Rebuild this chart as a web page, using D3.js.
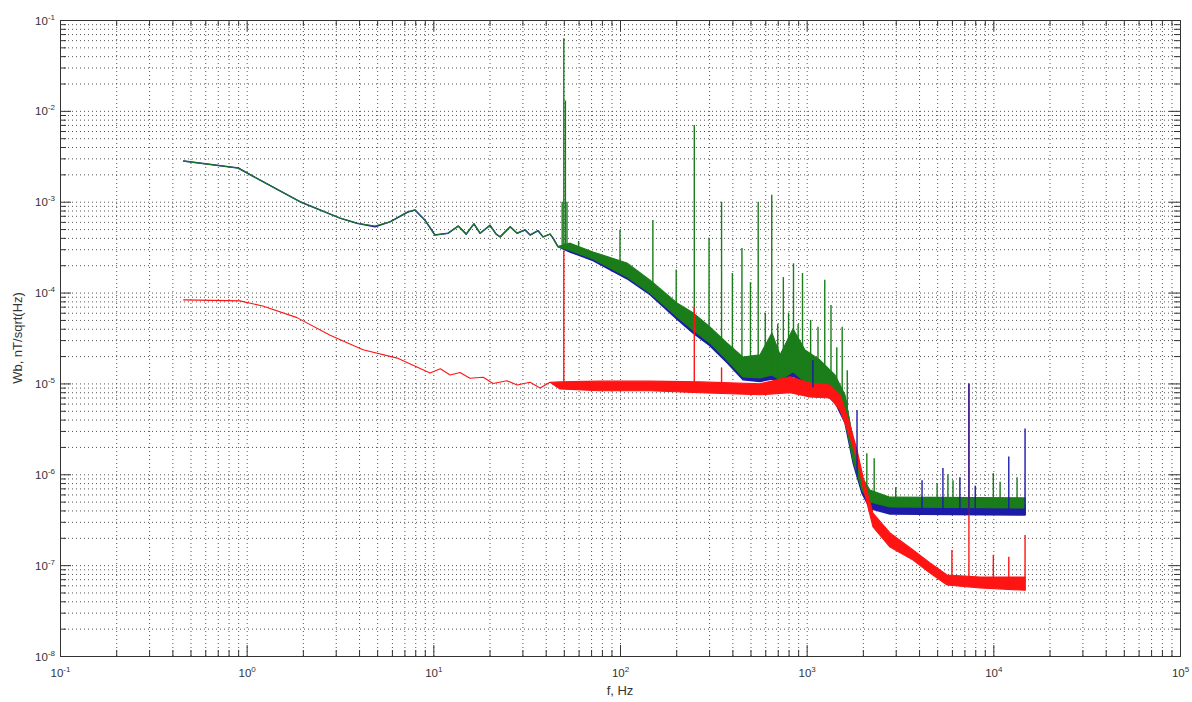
<!DOCTYPE html>
<html>
<head>
<meta charset="utf-8">
<script src="https://cdn.jsdelivr.net/npm/d3@7"></script>
<style>
  body { margin: 0; background: #fff; }
  svg { display: block; font-family: "Liberation Sans", Arial, sans-serif; }
</style>
</head>
<body>
<svg id="chart" width="1192" height="702"></svg>
<script>
// each trace row: [frequency Hz, lower edge, upper edge] of the plotted band
const blueTrace = [
  [0.46, 2.8e-3, 2.8e-3], [0.9, 2.35e-3, 2.35e-3], [1.18, 1.73e-3, 1.73e-3],
  [1.93, 1.0e-3, 1.0e-3], [3.16, 6.6e-4, 6.6e-4], [3.9, 5.8e-4, 5.8e-4],
  [4.87, 5.3e-4, 5.3e-4], [5.86, 6.0e-4, 6.0e-4], [7.3, 7.7e-4, 7.7e-4],
  [7.98, 8.1e-4, 8.1e-4], [9.0, 6.3e-4, 6.3e-4], [10.2, 4.3e-4, 4.3e-4],
  [12.0, 4.5e-4, 4.5e-4], [13.6, 5.4e-4, 5.4e-4], [15.0, 4.4e-4, 4.4e-4],
  [16.5, 5.7e-4, 5.7e-4], [17.8, 4.5e-4, 4.5e-4], [20.1, 5.5e-4, 5.5e-4],
  [21.7, 4.4e-4, 4.4e-4], [22.8, 4.1e-4, 4.1e-4], [25.8, 5.3e-4, 5.3e-4],
  [28.1, 4.5e-4, 4.5e-4], [31.0, 4.9e-4, 4.9e-4], [33, 4.3e-4, 4.3e-4],
  [36.4, 4.8e-4, 4.8e-4], [38.7, 4.1e-4, 4.1e-4], [42.2, 4.4e-4, 4.4e-4],
  [43.7, 4.0e-4, 4.0e-4], [46.5, 3.2e-4, 3.2e-4],
  [54, 2.8e-4, 3.4e-4], [71.7, 2.25e-4, 2.7e-4], [109, 1.42e-4, 2.0e-4],
  [145, 9.5e-5, 1.3e-4], [202, 5.1e-5, 7.3e-5], [246, 3.6e-5, 5.6e-5],
  [303, 2.6e-5, 4.0e-5], [374, 1.7e-5, 2.6e-5], [456, 1.1e-5, 1.85e-5],
  [562, 1.05e-5, 1.95e-5], [652, 1.12e-5, 3.2e-5], [720, 1.0e-5, 2.0e-5],
  [845, 1.22e-5, 3.6e-5], [980, 9.6e-6, 2.2e-5], [1178, 8.5e-6, 1.7e-5],
  [1418, 6.2e-6, 1.15e-5], [1604, 3.7e-6, 7.0e-6], [1771, 1.35e-6, 2.3e-6],
  [1978, 6.2e-7, 8.8e-7], [2183, 4.2e-7, 5.9e-7], [2795, 3.66e-7, 4.8e-7],
  [14790, 3.56e-7, 4.6e-7]
];

const greenTrace = [
  [0.46, 2.8e-3, 2.8e-3], [0.9, 2.35e-3, 2.35e-3], [1.18, 1.73e-3, 1.73e-3],
  [1.93, 1.0e-3, 1.0e-3], [3.16, 6.6e-4, 6.6e-4], [3.9, 5.8e-4, 5.8e-4],
  [4.87, 5.4e-4, 5.4e-4], [5.86, 6.0e-4, 6.0e-4], [7.3, 7.7e-4, 7.7e-4],
  [7.98, 8.1e-4, 8.1e-4], [9.0, 6.3e-4, 6.3e-4], [10.2, 4.3e-4, 4.3e-4],
  [12.0, 4.5e-4, 4.5e-4], [13.6, 5.4e-4, 5.4e-4], [15.0, 4.4e-4, 4.4e-4],
  [16.5, 5.7e-4, 5.7e-4], [17.8, 4.5e-4, 4.5e-4], [20.1, 5.5e-4, 5.5e-4],
  [21.7, 4.4e-4, 4.4e-4], [22.8, 4.1e-4, 4.1e-4], [25.8, 5.3e-4, 5.3e-4],
  [28.1, 4.5e-4, 4.5e-4], [31.0, 4.9e-4, 4.9e-4], [33, 4.3e-4, 4.3e-4],
  [36.4, 4.8e-4, 4.8e-4], [38.7, 4.1e-4, 4.1e-4], [42.2, 4.4e-4, 4.4e-4],
  [43.7, 4.0e-4, 4.0e-4], [46.5, 3.2e-4, 3.2e-4],
  [54, 2.9e-4, 3.5e-4], [71.7, 2.34e-4, 2.8e-4], [109, 1.48e-4, 2.12e-4],
  [145, 9.9e-5, 1.37e-4], [202, 5.4e-5, 7.7e-5], [246, 3.87e-5, 6.0e-5],
  [303, 2.79e-5, 4.2e-5], [374, 1.81e-5, 2.79e-5], [456, 1.18e-5, 1.95e-5],
  [562, 1.15e-5, 2.06e-5], [652, 1.24e-5, 3.6e-5], [720, 1.09e-5, 2.06e-5],
  [845, 1.34e-5, 4.0e-5], [980, 1.04e-5, 2.33e-5], [1178, 9.1e-6, 1.81e-5],
  [1418, 6.6e-6, 1.24e-5], [1604, 3.96e-6, 7.5e-6], [1771, 1.44e-6, 2.38e-6],
  [1978, 6.7e-7, 9.3e-7], [2183, 4.95e-7, 6.7e-7], [2795, 4.37e-7, 5.6e-7],
  [14790, 4.26e-7, 5.5e-7]
];

const redTrace = [
  [0.46, 8.3e-5, 8.3e-5], [0.92, 8.1e-5, 8.1e-5], [1.22, 7.1e-5, 7.1e-5],
  [1.86, 5.3e-5, 5.3e-5], [2.8, 3.4e-5, 3.4e-5], [4.2, 2.35e-5, 2.35e-5],
  [6.4, 1.9e-5, 1.9e-5], [9.6, 1.3e-5, 1.3e-5], [10.9, 1.45e-5, 1.45e-5],
  [12.3, 1.24e-5, 1.24e-5], [13.9, 1.32e-5, 1.32e-5], [15.7, 1.14e-5, 1.14e-5],
  [18.5, 1.17e-5, 1.17e-5], [20.9, 1.0e-5, 1.0e-5], [24.8, 1.07e-5, 1.07e-5],
  [28.1, 9.6e-6, 9.6e-6], [33, 1.03e-5, 1.03e-5], [37.3, 8.9e-6, 8.9e-6],
  [42.2, 1.03e-5, 1.03e-5], [47.7, 8.7e-6, 1.04e-5],
  [78, 8.3e-6, 1.06e-5], [145, 8.3e-6, 1.06e-5], [270, 7.9e-6, 1.04e-5],
  [562, 7.5e-6, 9.9e-6], [815, 7.9e-6, 1.18e-5], [1042, 7.1e-6, 1.01e-5],
  [1334, 6.9e-6, 9.6e-6], [1508, 5.1e-6, 7.5e-6], [1706, 2.58e-6, 3.5e-6],
  [1861, 1.44e-6, 1.85e-6], [2005, 7.2e-7, 9.3e-7], [2266, 2.63e-7, 3.75e-7],
  [2795, 1.58e-7, 2.26e-7], [3715, 1.14e-7, 1.47e-7], [4580, 8.2e-8, 1.06e-7],
  [5650, 6.05e-8, 7.8e-8], [8490, 5.6e-8, 7.4e-8], [14790, 5.3e-8, 7.4e-8]
];

// narrow lines: [frequency Hz, peak value]
const greenSpikes = [
  [49, 1.0e-3], [50, 6.3e-2], [51, 1.3e-2], [52, 1.0e-3], [60, 3.7e-4],
  [100, 4.9e-4], [150, 6.3e-4], [200, 1.8e-4], [250, 7.0e-3], [300, 4.0e-4],
  [350, 1.0e-3], [400, 1.64e-4], [450, 3.1e-4], [500, 1.3e-4], [550, 1.0e-3],
  [600, 6.0e-5], [650, 1.19e-3], [700, 4.5e-5], [750, 1.48e-4], [800, 6.0e-5],
  [850, 2.1e-4], [900, 4.5e-5], [950, 1.64e-4],
  [1050, 5.0e-5], [1150, 4.2e-5], [1250, 1.38e-4], [1350, 7.3e-5], [1450, 2.5e-5],
  [1550, 4.2e-5], [1650, 1.4e-5], [2100, 1.7e-6], [2300, 1.5e-6], [3000, 7.2e-7],
  [5000, 8.0e-7], [5710, 1.0e-6], [6080, 8.6e-7], [10000, 1.03e-6],
  [10870, 8.3e-7], [13400, 9.3e-7]
];
const blueSpikes = [
  [1080, 1.81e-5], [1861, 5.1e-6], [4150, 8.6e-7], [5370, 1.17e-6],
  [6620, 9.3e-7], [7400, 1.0e-5], [8000, 7.5e-7], [12100, 1.57e-6], [14790, 3.2e-6]
];
const redSpikes = [
  [50, 2.9e-4], [250, 7.0e-5], [350, 1.5e-5], [6000, 1.47e-7], [7400, 1.0e-5],
  [10000, 1.3e-7], [12100, 1.24e-7], [14790, 2.15e-7]
];

const xDecades = [-1, 0, 1, 2, 3, 4, 5];
const yDecades = [-8, -7, -6, -5, -4, -3, -2, -1];
const minorSteps = [2, 3, 4, 5, 6, 7, 8, 9];

const plotLeft = 60, plotRight = 1180, plotTop = 20, plotBottom = 656;
const svg = d3.select('#chart');

const x = d3.scaleLog().domain([1e-1, 1e5]).range([plotLeft, plotRight]);
const y = d3.scaleLog().domain([1e-8, 1e-1]).range([plotBottom, plotTop]);

const xMajor = xDecades.map(d => Math.pow(10, d));
const yMajor = yDecades.map(d => Math.pow(10, d));
const xMinor = [];
xDecades.slice(0, -1).forEach(d => minorSteps.forEach(k => xMinor.push(k * Math.pow(10, d))));
const yMinor = [];
yDecades.slice(0, -1).forEach(d => minorSteps.forEach(k => yMinor.push(k * Math.pow(10, d))));

// dotted grid
const grid = svg.append('g');
grid.append('g')
  .attr('transform', `translate(0,${plotBottom})`)
  .call(d3.axisBottom(x).tickValues(xMajor.concat(xMinor)).tickSize(-(plotBottom - plotTop)).tickFormat(''));
grid.append('g')
  .attr('transform', `translate(${plotLeft},0)`)
  .call(d3.axisLeft(y).tickValues(yMajor.concat(yMinor)).tickSize(-(plotRight - plotLeft)).tickFormat(''));
grid.selectAll('.domain').remove();
grid.selectAll('line')
  .attr('stroke', '#555')
  .attr('stroke-width', 1)
  .attr('stroke-dasharray', '1,3');

const colors = { blue: '#1c1ca8', green: '#1a7d1a', red: '#ff1414' };

const band = d3.area()
  .x(d => x(d[0]))
  .y0(d => y(d[1]))
  .y1(d => y(d[2]));

const plot = svg.append('g');

function drawTrace(trace, color, width) {
  plot.append('path')
    .datum(trace)
    .attr('d', band)
    .attr('fill', color)
    .attr('stroke', color)
    .attr('stroke-width', width)
    .attr('stroke-linejoin', 'round');
}

function drawSpikes(spikes, trace, color) {
  const baseAt = d3.scaleLog()
    .domain(trace.map(d => d[0]))
    .range(trace.map(d => y(d[1])))
    .clamp(true);
  plot.append('g')
    .selectAll('line')
    .data(spikes)
    .join('line')
    .attr('x1', d => x(d[0]))
    .attr('x2', d => x(d[0]))
    .attr('y1', d => baseAt(d[0]))
    .attr('y2', d => y(d[1]))
    .attr('stroke', color)
    .attr('stroke-width', 1.4);
}

drawTrace(blueTrace, colors.blue, 1.5);
drawTrace(greenTrace, colors.green, 1.1);
drawSpikes(greenSpikes, greenTrace, colors.green);
drawTrace(redTrace, colors.red, 1.1);
drawSpikes(redSpikes, redTrace, colors.red);
drawSpikes(blueSpikes, blueTrace, colors.blue);

// box with inward ticks on all four sides
const axes = svg.append('g');
function addAxis(axis, transform, values, size) {
  return axes.append('g')
    .attr('transform', transform)
    .call(axis.tickValues(values).tickSize(-size).tickSizeOuter(0).tickFormat(''));
}
const bottomAxis = addAxis(d3.axisBottom(x), `translate(0,${plotBottom})`, xMajor, 11);
addAxis(d3.axisBottom(x), `translate(0,${plotBottom})`, xMinor, 6);
addAxis(d3.axisTop(x), `translate(0,${plotTop})`, xMajor, 11);
addAxis(d3.axisTop(x), `translate(0,${plotTop})`, xMinor, 6);
const leftAxis = addAxis(d3.axisLeft(y), `translate(${plotLeft},0)`, yMajor, 11);
addAxis(d3.axisLeft(y), `translate(${plotLeft},0)`, yMinor, 6);
addAxis(d3.axisRight(y), `translate(${plotRight},0)`, yMajor, 11);
addAxis(d3.axisRight(y), `translate(${plotRight},0)`, yMinor, 6);
axes.selectAll('.domain, line').attr('stroke', '#333');

function powerLabel(sel, exp) {
  sel.append('tspan').text('10');
  sel.append('tspan')
    .attr('dy', -5)
    .attr('font-size', 8)
    .text(exp);
}

bottomAxis.selectAll('.tick').each(function (d) {
  d3.select(this).append('text')
    .attr('y', 21)
    .attr('fill', '#333')
    .attr('font-size', 11.5)
    .attr('text-anchor', 'middle')
    .call(powerLabel, Math.round(Math.log10(d)));
});
leftAxis.selectAll('.tick').each(function (d) {
  d3.select(this).append('text')
    .attr('x', -5)
    .attr('y', 4)
    .attr('fill', '#333')
    .attr('font-size', 11.5)
    .attr('text-anchor', 'end')
    .call(powerLabel, Math.round(Math.log10(d)));
});

svg.append('text')
  .attr('x', (plotLeft + plotRight) / 2)
  .attr('y', 695)
  .attr('text-anchor', 'middle')
  .attr('font-size', 13)
  .attr('fill', '#333')
  .text('f, Hz');

svg.append('text')
  .attr('transform', `translate(22,${(plotTop + plotBottom) / 2}) rotate(-90)`)
  .attr('text-anchor', 'middle')
  .attr('font-size', 13)
  .attr('fill', '#333')
  .text('Wb, nT/sqrt(Hz)');
</script>
</body>
</html>
